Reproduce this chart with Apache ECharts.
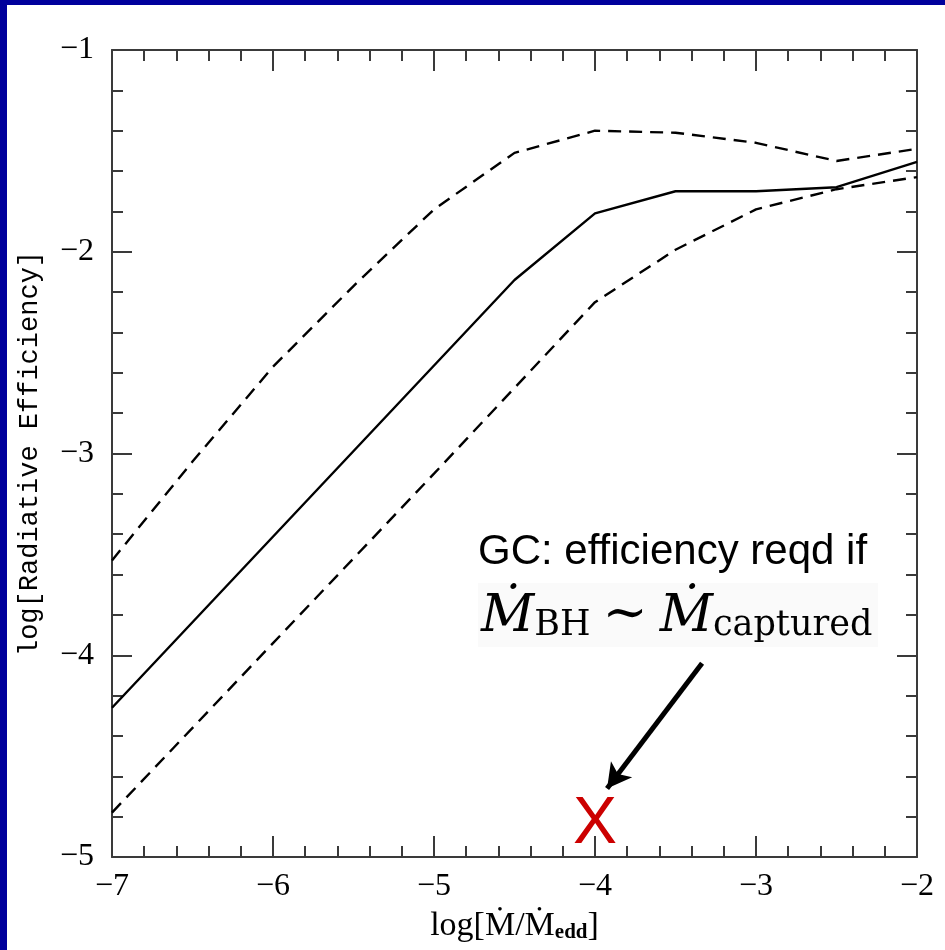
<!DOCTYPE html>
<html>
<head>
<meta charset="utf-8">
<script src="https://cdn.jsdelivr.net/npm/echarts@6/dist/echarts.min.js"></script>
<style>
  html, body { margin: 0; padding: 0; width: 945px; height: 950px; background: #00009c; overflow: hidden; }
  #chart { position: absolute; left: 7px; top: 5px; width: 938px; height: 945px; background: #ffffff; }
</style>
</head>
<body>
<div id="chart"></div>
<script>
// log(accretion rate / Eddington rate) breakpoints and log(radiative efficiency) per curve
const solidX = [-7, -4.5, -4, -3.5, -3, -2.5, -2];
const solidY = [-4.26, -2.14, -1.81, -1.70, -1.70, -1.68, -1.555];

const upperX = [-7, -6.5, -6, -5.5, -5, -4.5, -4, -3.5, -3, -2.5, -2];
const upperY = [-3.53, -3.04, -2.57, -2.17, -1.79, -1.51, -1.40, -1.41, -1.46, -1.55, -1.49];

const lowerX = [-7, -6, -5, -4, -3.5, -3, -2.5, -2];
const lowerY = [-4.78, -3.94, -3.10, -2.25, -1.99, -1.79, -1.69, -1.63];

// Galactic Centre requirement marker and the arrow pointing at it
const gcPoint = [-4, -4.84];
const arrowFrom = [-3.335, -4.04];
const arrowTo = [-3.925, -4.66];

const xRange = [-7, -2];
const yRange = [-5, -1];

const pairs = (xs, ys) => xs.map((x, i) => [x, ys[i]]);
const minusLabel = v => String(v).replace('-', '\u2212');

const axisColor = '#3a3a3a';
const tickFont = { fontFamily: 'Liberation Serif, DejaVu Serif', fontSize: 32, color: '#000' };

function xAxisDef(pos, showLabel) {
  return {
    type: 'value', position: pos, min: xRange[0], max: xRange[1], interval: 1,
    axisLine: { show: true, onZero: false, lineStyle: { color: axisColor, width: 2 } },
    axisTick: { show: true, inside: true, length: 21, lineStyle: { color: axisColor, width: 2 } },
    minorTick: { show: true, splitNumber: 5, length: 11, lineStyle: { color: axisColor, width: 2 } },
    splitLine: { show: false },
    axisLabel: Object.assign({ show: showLabel, margin: 14, formatter: minusLabel }, tickFont)
  };
}
function yAxisDef(pos, showLabel) {
  return {
    type: 'value', position: pos, min: yRange[0], max: yRange[1], interval: 1,
    axisLine: { show: true, onZero: false, lineStyle: { color: axisColor, width: 2 } },
    axisTick: { show: true, inside: true, length: 20, lineStyle: { color: axisColor, width: 2 } },
    minorTick: { show: true, splitNumber: 5, length: 11, lineStyle: { color: axisColor, width: 2 } },
    splitLine: { show: false },
    axisLabel: Object.assign({ show: showLabel, margin: 18, formatter: minusLabel }, tickFont)
  };
}

const xBottom = xAxisDef('bottom', true);
xBottom.name = 'log[{d|\u1E40}/{d|\u1E40}{sub|edd}]';
xBottom.nameLocation = 'middle';
xBottom.nameGap = 52;
xBottom.nameTextStyle = {
  fontFamily: 'Liberation Serif, DejaVu Serif', fontSize: 34, color: '#000',
  rich: {
    d: { fontFamily: 'Liberation Serif, DejaVu Serif', fontSize: 34, color: '#000' },
    sub: { fontFamily: 'Liberation Serif, DejaVu Serif', fontSize: 21, fontWeight: 'bold', color: '#000',
           verticalAlign: 'bottom', lineHeight: 14 }
  }
};
const xTop = xAxisDef('top', false);

const yLeft = yAxisDef('left', true);
yLeft.name = 'log[Radiative Efficiency]';
yLeft.nameLocation = 'middle';
yLeft.nameRotate = 90;
yLeft.nameGap = 69;
yLeft.nameTextStyle = { fontFamily: 'Liberation Mono, DejaVu Sans Mono', fontSize: 27, color: '#000' };
const yRight = yAxisDef('right', false);

const lineBase = { type: 'line', xAxisIndex: 0, yAxisIndex: 0, symbol: 'none', silent: true, z: 3 };

const chart = echarts.init(document.getElementById('chart'), null, { renderer: 'canvas' });
chart.setOption({
  animation: false,
  backgroundColor: '#ffffff',
  grid: { left: 105, top: 45, right: 28, bottom: 93, containLabel: false },
  xAxis: [xBottom, xTop],
  yAxis: [yLeft, yRight],
  graphic: [
    { type: 'rect', shape: { x: 471, y: 578, width: 400, height: 64 },
      style: { fill: '#fafafa' }, z: 1, silent: true },
    { type: 'text', x: 471, y: 526, z: 5, silent: true,
      style: { text: 'GC: efficiency reqd if', fontFamily: 'Liberation Sans, Arial', fontSize: 42,
               fill: '#000', verticalAlign: 'top' } },
    { type: 'text', x: 474, y: 574, z: 5, silent: true,
      style: {
        text: '{m|\u1E40}{s|BH}{o|\u223C}{m|\u1E40}{s|captured}',
        verticalAlign: 'top', fill: '#000',
        rich: {
          m: { fontFamily: 'DejaVu Serif', fontStyle: 'italic', fontSize: 52, lineHeight: 64,
               verticalAlign: 'bottom', fill: '#000' },
          s: { fontFamily: 'DejaVu Serif', fontSize: 35, lineHeight: 30,
               verticalAlign: 'bottom', fill: '#000' },
          o: { fontFamily: 'Liberation Serif, DejaVu Serif', fontSize: 54, lineHeight: 64, padding: [0, 12, 0, 12],
               verticalAlign: 'bottom', fill: '#000' }
        }
      } }
  ],
  series: [
    Object.assign({}, lineBase, {
      name: 'mean', data: pairs(solidX, solidY),
      lineStyle: { color: '#000', width: 2.4, type: 'solid' }
    }),
    Object.assign({}, lineBase, {
      name: 'upper', data: pairs(upperX, upperY),
      lineStyle: { color: '#000', width: 2.4, type: [13, 8] }
    }),
    Object.assign({}, lineBase, {
      name: 'lower', data: pairs(lowerX, lowerY),
      lineStyle: { color: '#000', width: 2.4, type: [13, 8] }
    }),
    {
      type: 'scatter', name: 'GC', xAxisIndex: 0, yAxisIndex: 0, silent: true, z: 4,
      data: [gcPoint], symbolSize: 1, itemStyle: { color: 'rgba(0,0,0,0)' },
      label: { show: true, position: 'inside', formatter: 'X', color: '#cc0000',
               textBorderWidth: 0, opacity: 1,
               fontFamily: 'Liberation Sans, Arial', fontSize: 66 },
      markLine: {
        silent: true, animation: false,
        symbol: ['none', 'arrow'], symbolSize: [20, 24],
        label: { show: false },
        lineStyle: { color: '#000', width: 5, type: 'solid' },
        emphasis: { disabled: true },
        data: [[{ coord: arrowFrom }, { coord: arrowTo }]]
      }
    }
  ]
});
</script>
</body>
</html>
